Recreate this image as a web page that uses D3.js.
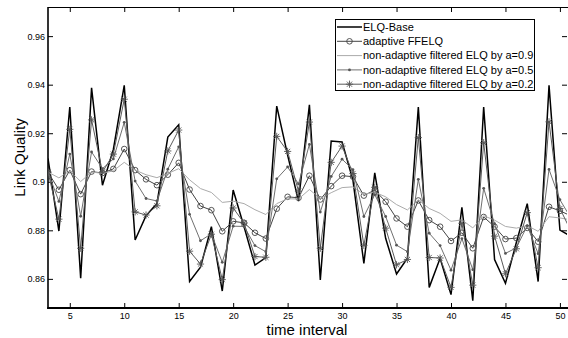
<html>
<head>
<meta charset="utf-8">
<title>link quality</title>
<style>
  body { margin: 0; background: #fff; }
  .chart text { font-family: "Liberation Sans", Arial, sans-serif; fill: #000; }
  .axis path { display: none; }
  .axis line { stroke: #000; }
  .axis text { font-size: 9px; }
</style>
<script src="https://d3js.org/d3.v7.min.js"></script>
</head>
<body>
<svg class="chart"></svg>
<script>
var intervals = [3,4,5,6,7,8,9,10,11,12,13,14,15,16,17,18,19,20,21,22,23,24,25,26,27,
  28,29,30,31,32,33,34,35,36,37,38,39,40,41,42,43,44,45,46,47,48,49,50,51];

var elqBase = [0.9096,0.8797,0.9308,0.8603,0.9387,0.8986,0.9133,0.9397,0.876,0.886,
  0.891,0.9184,0.9235,0.8589,0.8648,0.8815,0.855,0.8966,0.8815,0.8657,
  0.8688,0.9312,0.911,0.892,0.9317,0.8596,0.9168,0.9164,0.9006,0.8664,
  0.9037,0.8767,0.862,0.8685,0.9308,0.8565,0.8685,0.8535,0.8895,0.851,
  0.9308,0.868,0.8582,0.875,0.891,0.8589,0.9397,0.8801,0.8775];

var adaptive = [0.9039,0.8967,0.9048,0.8949,0.9042,0.9036,0.9053,0.9135,0.9048,0.901,
  0.8986,0.9029,0.9078,0.8968,0.89,0.8883,0.8796,0.8837,0.8831,0.879,
  0.8766,0.8889,0.8938,0.8934,0.9025,0.8927,0.8982,0.9025,0.9021,0.8943,
  0.8966,0.8918,0.8849,0.8815,0.8923,0.8842,0.8815,0.8756,0.879,0.8726,
  0.8855,0.8815,0.8764,0.8768,0.881,0.8753,0.8897,0.888,0.886];

var filt09 = [0.904,0.9016,0.9045,0.9001,0.904,0.9035,0.9045,0.908,0.9048,0.9029,
  0.9017,0.9034,0.9054,0.9008,0.8972,0.8956,0.8915,0.892,0.891,0.8885,
  0.8865,0.891,0.893,0.8929,0.8968,0.8931,0.8955,0.8976,0.8979,0.8948,
  0.8957,0.8938,0.8906,0.8884,0.8926,0.889,0.887,0.8837,0.8843,0.881,
  0.886,0.8842,0.8816,0.8809,0.8819,0.8796,0.8856,0.8851,0.8843];

var filt05 = [0.904,0.8919,0.9114,0.8858,0.9123,0.9054,0.9094,0.9245,0.9003,0.8931,
  0.8921,0.9052,0.9144,0.8866,0.8757,0.8786,0.8668,0.8817,0.8816,0.8737,
  0.8712,0.9012,0.9061,0.8991,0.9154,0.8875,0.9022,0.9093,0.905,0.8857,
  0.8947,0.8857,0.8739,0.8712,0.901,0.8788,0.8737,0.8636,0.8766,0.8638,
  0.8973,0.8827,0.8705,0.8728,0.8819,0.8704,0.9051,0.8926,0.8851];

var filt02 = [0.904,0.8846,0.9216,0.8726,0.9255,0.904,0.9114,0.934,0.8876,0.8863,
  0.8901,0.9127,0.9213,0.8714,0.8661,0.8784,0.8597,0.8892,0.883,0.8692,
  0.8689,0.9187,0.9125,0.8961,0.9246,0.8726,0.908,0.9147,0.9034,0.8738,
  0.8977,0.8809,0.8658,0.868,0.9182,0.8688,0.8686,0.8565,0.8829,0.8574,
  0.9161,0.8776,0.8621,0.8724,0.8873,0.8646,0.9247,0.889,0.8798];

var xTicks = [5,10,15,20,25,30,35,40,45,50];
var yTicks = [0.86,0.88,0.9,0.92,0.94,0.96];
var yTickLabels = ["0.86","0.88","0.9","0.92","0.94","0.96"];

var seriesNames = ["ELQ-Base", "adaptive FFELQ", "non-adaptive filtered ELQ by a=0.9",
  "non-adaptive filtered ELQ by a=0.5", "non-adaptive filtered ELQ by a=0.2"];

var width = 568, height = 338;
var plotLeft = 48, plotRight = 567, plotTop = 7, plotBottom = 308;

var x = d3.scaleLinear().domain([3, 50.65]).range([plotLeft, plotRight]);
var y = d3.scaleLinear().domain([0.848, 0.972]).range([plotBottom, plotTop]);

var chart = d3.select(".chart")
    .attr("width", width)
    .attr("height", height);

chart.append("defs").append("clipPath").attr("id", "plot")
  .append("rect").attr("x", plotLeft).attr("y", plotTop)
  .attr("width", plotRight - plotLeft).attr("height", plotBottom - plotTop);

// axes, ticks pointing inward like matlab
var xAxis = d3.axisBottom(x).tickValues(xTicks).tickSize(-5).tickPadding(5)
    .tickFormat(d3.format("d"));
var yAxis = d3.axisLeft(y).tickValues(yTicks).tickSize(-5).tickPadding(3)
    .tickFormat(function(d, i) { return yTickLabels[i]; });

chart.append("g").attr("class", "axis")
    .attr("transform", "translate(0," + plotBottom + ")").call(xAxis);
chart.append("g").attr("class", "axis")
    .attr("transform", "translate(" + plotLeft + ",0)").call(yAxis);
chart.append("g").attr("class", "axis")
    .attr("transform", "translate(0," + plotTop + ")")
    .call(d3.axisTop(x).tickValues(xTicks).tickSize(-5).tickFormat(""));
chart.append("g").attr("class", "axis")
    .attr("transform", "translate(" + plotRight + ",0)")
    .call(d3.axisRight(y).tickValues(yTicks).tickSize(-5).tickFormat(""));

chart.append("line").attr("x1", plotLeft).attr("x2", width).attr("y1", plotTop + 0.5).attr("y2", plotTop + 0.5)
    .attr("stroke", "#000").attr("stroke-width", 1);
chart.append("line").attr("x1", plotLeft).attr("x2", plotLeft).attr("y1", plotTop).attr("y2", plotBottom + 1)
    .attr("stroke", "#000").attr("stroke-width", 1.6);
chart.append("line").attr("x1", plotLeft - 0.8).attr("x2", width).attr("y1", plotBottom).attr("y2", plotBottom)
    .attr("stroke", "#000").attr("stroke-width", 2);

var series = [
  { name: seriesNames[0], values: elqBase, color: "#000", width: 1.5, marker: null },
  { name: seriesNames[1], values: adaptive, color: "#444", width: 1, marker: "circle" },
  { name: seriesNames[2], values: filt09, color: "#ababab", width: 1, marker: null },
  { name: seriesNames[3], values: filt05, color: "#707070", width: 1, marker: "dot" },
  { name: seriesNames[4], values: filt02, color: "#5a5a5a", width: 1, marker: "star" }
];

function starPath(s) {
  var a = s * 0.72;
  return "M" + (-s) + ",0H" + s + "M0," + (-s) + "V" + s +
    "M" + (-a) + "," + (-a) + "L" + a + "," + a + "M" + (-a) + "," + a + "L" + a + "," + (-a);
}

function drawMarker(g, type, color) {
  if (type == "circle") {
    g.append("circle").attr("r", 2.8).attr("fill", "none")
      .attr("stroke", color).attr("stroke-width", 0.9);
  } else if (type == "dot") {
    g.append("circle").attr("r", 1.4).attr("fill", "#555");
  } else if (type == "star") {
    g.append("path").attr("d", starPath(3.6)).attr("fill", "none")
      .attr("stroke", "#555").attr("stroke-width", 0.9);
  }
}

var line = d3.line()
    .x(function(d) { return x(d[0]); })
    .y(function(d) { return y(d[1]); });

var plot = chart.append("g").attr("clip-path", "url(#plot)");

series.forEach(function(s) {
  var pts = intervals.map(function(t, i) { return [t, s.values[i]]; });
  plot.append("path").datum(pts)
      .attr("d", line)
      .attr("fill", "none")
      .attr("stroke", s.color)
      .attr("stroke-width", s.width)
      .attr("stroke-linejoin", "miter");
  if (s.marker) {
    plot.selectAll(null).data(pts).enter().append("g")
      .attr("transform", function(d) { return "translate(" + x(d[0]) + "," + y(d[1]) + ")"; })
      .each(function() { drawMarker(d3.select(this), s.marker, s.color); });
  }
});

// legend
var legend = chart.append("g");
legend.append("rect").attr("x", 335.5).attr("y", 19.5).attr("width", 199).attr("height", 71)
    .attr("fill", "#fff").attr("stroke", "#000").attr("stroke-width", 1);

series.forEach(function(s, i) {
  var ly = 27 + i * 14.3;
  var row = legend.append("g");
  row.append("line").attr("x1", 337).attr("x2", 362).attr("y1", ly).attr("y2", ly)
     .attr("stroke", s.color).attr("stroke-width", s.width);
  if (s.marker) {
    drawMarker(row.append("g").attr("transform", "translate(349.5," + ly + ")"), s.marker, s.color);
  }
  row.append("text").attr("x", 363).attr("y", ly).attr("dy", "0.35em")
     .style("font-size", "11px").text(s.name);
});

chart.append("text").attr("x", 307).attr("y", 335)
    .attr("text-anchor", "middle").style("font-size", "15px").text("time interval");
chart.append("text").attr("transform", "translate(25," + ((plotTop + plotBottom) / 2) + ") rotate(-90)")
    .attr("text-anchor", "middle").style("font-size", "15px").text("Link Quality");
</script>
</body>
</html>
